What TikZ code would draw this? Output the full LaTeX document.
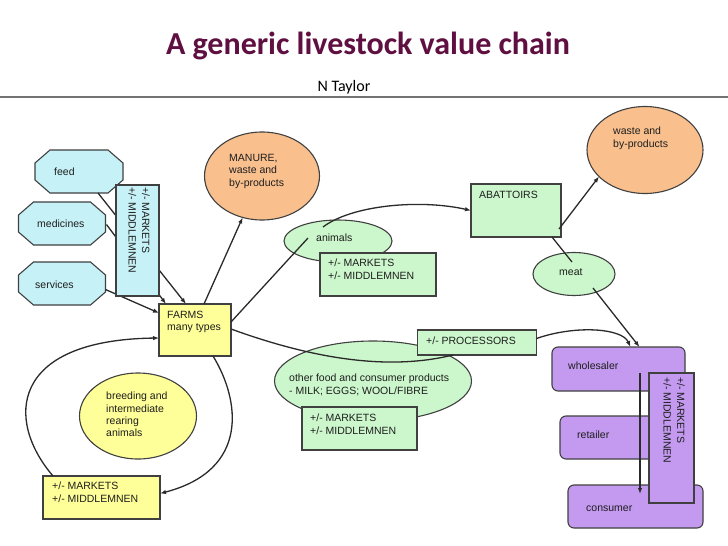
\documentclass[tikz,border=0pt]{standalone}
\usepackage{fontspec}
\setmainfont{Liberation Sans}
\newfontfamily\titlefont{Carlito}
\usetikzlibrary{shapes.geometric,arrows.meta,calc}
\definecolor{cyanfill}{HTML}{C6F1F6}
\definecolor{yelfill}{HTML}{FFFF99}
\definecolor{orfill}{HTML}{F9C08E}
\definecolor{grfill}{HTML}{CCF7CC}
\definecolor{pufill}{HTML}{C49AF0}
\definecolor{bordc}{HTML}{404040}
\definecolor{linec}{HTML}{2A2A2A}
\definecolor{txtc}{HTML}{1E1E1E}
\definecolor{titlec}{HTML}{5F0F40}
\newcommand\myoctagon[2]{\draw[box,fill=#2] ($(#1.north west)+(15,0)$) -- ($(#1.north east)+(-15,0)$) -- ($(#1.north east)+(0,13)$) -- ($(#1.south east)+(0,-13)$) -- ($(#1.south east)+(-15,0)$) -- ($(#1.south west)+(15,0)$) -- ($(#1.south west)+(0,-13)$) -- ($(#1.north west)+(0,13)$) -- cycle;}
\begin{document}
\begin{tikzpicture}[x=1pt,y=-1pt,
  box/.style={draw=bordc, line width=1.1pt, inner sep=0pt, outer sep=0pt},
  holder/.style={inner sep=0pt, outer sep=0pt},
  ell/.style={box, ellipse},
  txt/.style={inner sep=0pt, align=left, anchor=north west, font=\fontsize{10.5}{12.3}\selectfont, text=txtc},
  ltxt/.style={inner sep=0pt, anchor=west, font=\fontsize{10.5}{12.3}\selectfont, text=txtc},
  conn/.style={draw=linec, line width=1.3pt},
  arr/.style={conn, -{Latex[length=6pt,width=4.5pt]}},
]
\useasboundingbox (0,0) rectangle (728,546);
\fill[white] (0,0) rectangle (728,546);

% title
\node[anchor=base, inner sep=0pt, font=\titlefont\bfseries\fontsize{32}{38}\selectfont, text=titlec] (title) at (368,54) {A generic livestock value chain};
\node[anchor=base, inner sep=0pt, font=\titlefont\fontsize{16}{19}\selectfont, text=black] (author) at (344,91) {N Taylor};
\draw[color=black!55, line width=1.5pt] (0,97) -- (728,97);

% octagons
\node[holder, minimum width=88, minimum height=43] (feed) at (79,171.5) {};
\node[holder, minimum width=87, minimum height=43] (medicines) at (62,223.5) {};
\node[holder, minimum width=87, minimum height=43] (services) at (62,283.5) {};
\myoctagon{feed}{cyanfill}
\myoctagon{medicines}{cyanfill}
\myoctagon{services}{cyanfill}
\node[ltxt] (tfeed) at (54,172) {feed};
\node[ltxt] (tmed) at (37,224) {medicines};
\node[ltxt] (tserv) at (35,285) {services};

% ellipses
\node[ell, fill=orfill, minimum width=115, minimum height=88] (manure) at (262,176) {};
\node[txt] (tmanure) at (229,154) {MANURE,\\waste and\\by-products};
\node[ell, fill=orfill, minimum width=116, minimum height=87] (waste) at (645,150) {};
\node[txt] (twaste) at (613,127) {waste and\\by-products};
\node[ell, fill=grfill, minimum width=108, minimum height=42] (animals) at (338,241) {};
\node[ltxt] (tanimals) at (316,238) {animals};
\node[ell, fill=grfill, minimum width=82, minimum height=43] (meat) at (574,274) {};
\node[ltxt] (tmeat) at (559,272) {meat};
\node[ell, fill=grfill, minimum width=197, minimum height=80] (other) at (373,381) {};
\node[txt] (tother) at (289,374) {other food and consumer products\\- MILK; EGGS; WOOL/FIBRE};
\node[ell, fill=yelfill, minimum width=117, minimum height=86] (breeding) at (138,416) {};
\node[txt] (tbreed) at (106,392) {breeding and\\intermediate\\rearing\\animals};

% rectangles
\node[box, fill=yelfill, minimum width=72, minimum height=52] (farms) at (195,330) {};
\node[txt] (tfarms) at (167,311) {FARMS\\many types};
\node[box, fill=grfill, minimum width=116, minimum height=43] (mk1) at (378,274.5) {};
\node[txt] (tmk1) at (328,259) {+/- MARKETS\\+/- MIDDLEMNEN};
\node[box, fill=grfill, minimum width=90, minimum height=53] (abattoirs) at (516,210.5) {};
\node[txt] (tabat) at (479,191) {ABATTOIRS};
\node[box, fill=grfill, minimum width=119, minimum height=25] (proc) at (477,342.5) {};
\node[ltxt] (tproc) at (426,341) {+/- PROCESSORS};
\node[box, fill=grfill, minimum width=115, minimum height=43] (mk2) at (359.5,428.5) {};
\node[txt] (tmk2) at (310,414) {+/- MARKETS\\+/- MIDDLEMNEN};
\node[box, fill=yelfill, minimum width=117, minimum height=43] (mk3) at (101.5,497.5) {};
\node[txt] (tmk3) at (52,482) {+/- MARKETS\\+/- MIDDLEMNEN};

% purple
\node[box, fill=pufill, rounded corners=6pt, minimum width=133, minimum height=44] (wholesaler) at (618.5,369) {};
\node[ltxt] (twhole) at (568,366) {wholesaler};
\node[box, fill=pufill, rounded corners=6pt, minimum width=100, minimum height=43] (retailer) at (610,437.5) {};
\node[ltxt] (tretail) at (577,435) {retailer};
\node[box, fill=pufill, rounded corners=6pt, minimum width=135, minimum height=43] (consumer) at (635.5,506.5) {};
\node[ltxt] (tcons) at (586,509) {consumer};
\node[box, fill=pufill, minimum width=45, minimum height=130] (mk4) at (671.5,438) {};
\node[inner sep=0pt, align=left, rotate=-90, anchor=north west, font=\fontsize{10.5}{13.5}\selectfont, text=txtc] (tmk4) at (685,377) {+/- MARKETS\\+/- MIDDLEMNEN};
\coordinate (vtop) at (640,373);
\coordinate (vbot) at (640,494);
\draw[arr] (vtop) -- (vbot);

% connectors
\draw[arr] ($(feed.south)+(19,0)$) -- ($(farms.north)+(-9,0)$);
\draw[arr] ($(medicines.east)+(1,1)$) -- ($(farms.north west)+(7,0)$);
\draw[arr] ($(services.east)+(0,6)$) -- ($(farms.west)+(0,-17)$);
\draw[arr] ($(farms.north)+(9,0)$) -- (manure.245);
\coordinate (aend) at ($(animals.center)+(-30,-3)$);
\coordinate (astart) at ($(animals.center)+(-15,-14)$);
\draw[conn] ($(farms.north east)+(0,18)$) -- (aend);
\draw[arr] (astart) .. controls (352,205) and (420,199) .. (abattoirs.west);
\draw[arr] ($(abattoirs.south east)+(-2,-8)$) -- (waste.210);
\coordinate (mend) at ($(meat.center)+(-2,-12)$);
\draw[conn] ($(abattoirs.south east)+(-9,0)$) -- (mend);
\draw[arr] ($(meat.center)+(19,14)$) -- ($(wholesaler.north)+(21,0)$);
\draw[arr] ($(proc.east)+(0,-4)$) .. controls (575,325) and (622,328) .. ($(wholesaler.north)+(12,0)$);
\draw[conn] ($(farms.east)+(0,-1)$) .. controls (330,365) and (400,368) .. ($(proc.south)+(-24,0)$);
\draw[arr] ($(farms.south)+(18,0)$) .. controls (240,400) and (250,470) .. ($(mk3.east)+(0,-4)$);
\draw[arr] ($(mk3.north west)+(10,0)$) .. controls (5,420) and (10,340) .. ($(farms.west)+(0,8)$);

% cyan markets box on top of feed lines
\node[box, fill=cyanfill, minimum width=43, minimum height=111] (mk0) at (137.5,240.5) {};
\node[inner sep=0pt, align=left, rotate=-90, anchor=north west, font=\fontsize{10.5}{13.5}\selectfont, text=txtc] (tmk0) at (150,187) {+/- MARKETS\\+/- MIDDLEMNEN};
\end{tikzpicture}
\end{document}
